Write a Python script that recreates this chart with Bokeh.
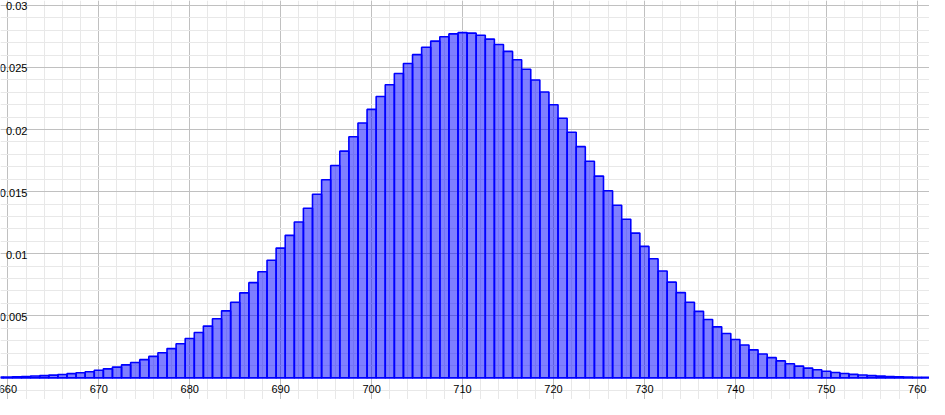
from bokeh.plotting import figure
from bokeh.models import Range1d, Grid, SingleIntervalTicker, ColumnDataSource
from bokeh.core.properties import value
from bokeh.embed import file_html
from bokeh.resources import INLINE

# bar positions (integer outcomes)
outcomes = list(range(659, 762))
# bar heights
probabilities = [
    0.00006, 0.00007, 0.00009, 0.00011, 0.00015, 0.00018, 0.00022, 0.00027, 0.00034, 0.00041,
    0.00050, 0.00061, 0.00073, 0.00087, 0.00105, 0.00124, 0.00147, 0.00173, 0.00202, 0.00236,
    0.00275, 0.00317, 0.00365, 0.00417, 0.00476, 0.00540, 0.00609, 0.00685, 0.00767, 0.00855,
    0.00947, 0.01045, 0.01148, 0.01255, 0.01366, 0.01479, 0.01595, 0.01710, 0.01826, 0.01942,
    0.02053, 0.02162, 0.02266, 0.02361, 0.02451, 0.02532, 0.02603, 0.02663, 0.02712, 0.02747,
    0.02770, 0.02780, 0.02776, 0.02759, 0.02728, 0.02685, 0.02629, 0.02562, 0.02485, 0.02399,
    0.02302, 0.02200, 0.02091, 0.01978, 0.01862, 0.01744, 0.01625, 0.01507, 0.01390, 0.01277,
    0.01166, 0.01059, 0.00959, 0.00861, 0.00771, 0.00687, 0.00609, 0.00536, 0.00470, 0.00411,
    0.00357, 0.00309, 0.00265, 0.00226, 0.00192, 0.00163, 0.00137, 0.00114, 0.00095, 0.00079,
    0.00065, 0.00053, 0.00044, 0.00035, 0.00028, 0.00023, 0.00018, 0.00014, 0.00011, 0.00009,
    0.00007, 0.00005, 0.00004,
]

x_tick_values = [660, 670, 680, 690, 700, 710, 720, 730, 740, 750, 760]
x_tick_labels = ["660", "670", "680", "690", "700", "710", "720", "730", "740", "750", "760"]
y_tick_values = [0.005, 0.01, 0.015, 0.02, 0.025, 0.03]
y_tick_labels = ["0.005", "0.01", "0.015", "0.02", "0.025", "0.03"]

p = figure(width=929, height=399,
           x_range=Range1d(659.19, 761.35), y_range=Range1d(-0.00174, 0.03039),
           x_axis_location=None, y_axis_location=None,
           toolbar_location=None, output_backend="svg",
           min_border=0, outline_line_color=None,
           background_fill_color="white", border_fill_color="white")

p.add_layout(Grid(dimension=0, ticker=SingleIntervalTicker(interval=10, num_minor_ticks=5),
                  grid_line_color="#c0c0c0", grid_line_width=1,
                  minor_grid_line_color="#e8e8e8", minor_grid_line_width=1))
p.add_layout(Grid(dimension=1, ticker=SingleIntervalTicker(interval=0.005, num_minor_ticks=5),
                  grid_line_color="#c0c0c0", grid_line_width=1,
                  minor_grid_line_color="#e8e8e8", minor_grid_line_width=1))

src = ColumnDataSource(dict(x=outcomes, top=probabilities))
p.vbar(x="x", top="top", bottom=0, width=1, source=src,
       fill_color="#0000ff", fill_alpha=0.5, line_color="#0000ff", line_width=1.6)

xs = ColumnDataSource(dict(x=x_tick_values, y=[0] * len(x_tick_values), t=x_tick_labels))
p.text(x="x", y="y", text="t", source=xs, y_offset=11,
       text_align="center", text_baseline="middle",
       text_font=value("Liberation Sans"), text_font_size="11px", text_color="black")

ys = ColumnDataSource(dict(x=[660] * len(y_tick_values), y=y_tick_values, t=y_tick_labels))
p.text(x="x", y="y", text="t", source=ys, x_offset=19.5, y_offset=1,
       text_align="right", text_baseline="middle",
       text_font=value("Liberation Sans"), text_font_size="11px", text_color="black")

open("out.html", "w").write(file_html(p, INLINE))
